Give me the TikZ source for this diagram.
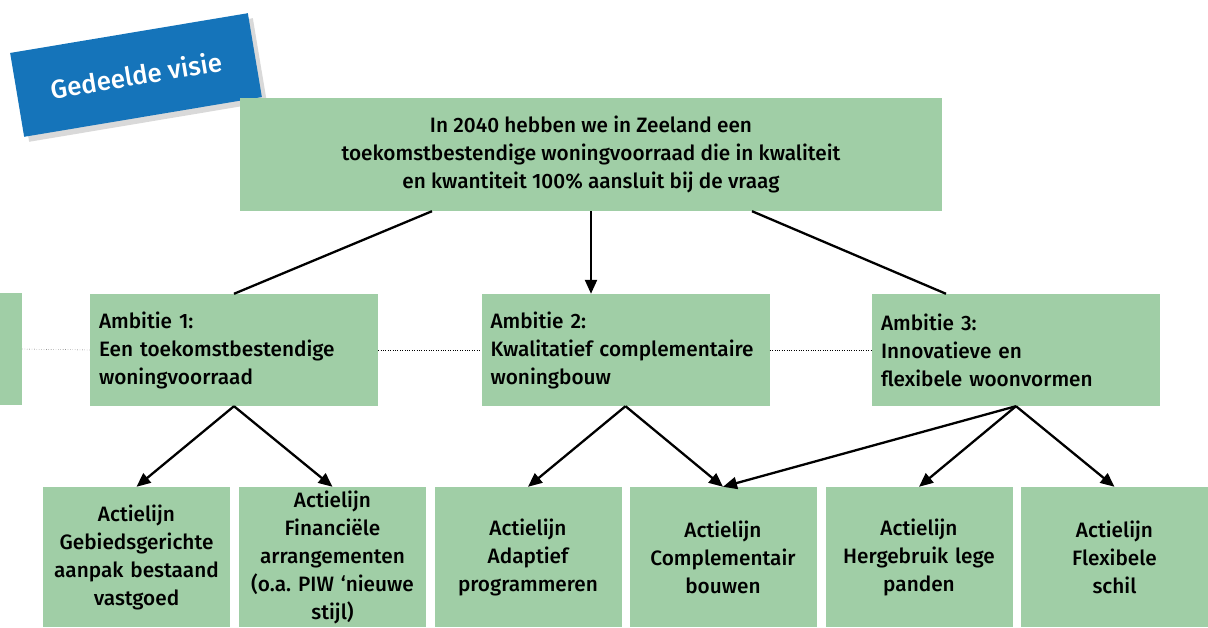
\documentclass[tikz,border=0pt]{standalone}
\usepackage{fontspec}
\setmainfont{Fira Sans}[BoldFont={* Medium}]
\usetikzlibrary{arrows.meta}
\definecolor{boxgreen}{RGB}{160,206,166}
\definecolor{labelblue}{RGB}{21,116,186}
\definecolor{shadowgray}{RGB}{217,217,217}
\frenchspacing
\tikzset{
  greenbox/.style={fill=boxgreen, inner sep=0pt, font=\fontsize{20.8}{28}\selectfont\bfseries},
  ambbox/.style={greenbox, minimum width=288pt, minimum height=112pt, align=left, text width=270pt},
  actbox/.style={greenbox, minimum width=187pt, minimum height=140pt, align=center, text width=187pt},
  conn/.style={line width=2.3pt},
  arr/.style={conn, -{Triangle[length=14pt,width=12pt]}}
}
\begin{document}
\begin{tikzpicture}[x=1pt,y=-1pt]
  \useasboundingbox (0,0) rectangle (1208,628);

  % label top left
  \node[fill=shadowgray, minimum width=241pt, minimum height=85pt, rotate=9.5] (shadow) at (141,80) {};
  \node[fill=labelblue, minimum width=241pt, minimum height=85pt, rotate=9.5, text=white,
        font=\fontsize{26}{26}\selectfont\bfseries] (label) at (136,75) {Gedeelde visie};

  % vision
  \node[greenbox, minimum width=702pt, minimum height=113pt, align=center] (visie) at (591,154.5)
    {In 2040 hebben we in Zeeland een\\toekomstbestendige woningvoorraad die in kwaliteit\\en kwantiteit 100\% aansluit bij de vraag};

  % ambitions
  \node[greenbox, minimum width=22pt, minimum height=112pt] (amb0) at (11,349) {};
  \node[ambbox] (amb1) at (234,350) {Ambitie 1:\\Een toekomstbestendige\\woningvoorraad};
  \node[ambbox] (amb2) at (625.5,350) {Ambitie 2:\\Kwalitatief complementaire\\woningbouw};
  \node[ambbox] (amb3) at (1016,350) {Ambitie 3:\\Innovatieve en\\flexibele woonvormen};

  \draw[dotted] (amb0.east) -- (amb1.west);
  \draw[dotted] (amb1.east) -- (amb2.west);
  \draw[dotted] (amb2.east) -- (amb3.west);

  % action lines
  \node[actbox] (act1) at (136.5,557) {Actielijn\\Gebiedsgerichte\\aanpak bestaand\\vastgoed};
  \node[actbox] (act2) at (332.5,557) {Actielijn\\Financiële\\arrangementen\\(o.a. PIW ‘nieuwe\\stijl)};
  \node[actbox] (act3) at (528,557) {Actielijn\\Adaptief\\programmeren};
  \node[actbox] (act4) at (723,557) {Actielijn\\Complementair\\bouwen};
  \node[actbox] (act5) at (919,557) {Actielijn\\Hergebruik lege\\panden};
  \node[actbox] (act6) at (1114.5,557) {Actielijn\\Flexibele\\schil};

  % connectors
  \draw[conn] ([xshift=-159pt]visie.south) -- (amb1.north);
  \draw[arr] (visie.south) -- (visie.south |- amb2.north);
  \draw[conn] ([xshift=161pt]visie.south) -- ([xshift=-70pt]amb3.north);

  \draw[arr] (amb1.south) -- (act1.north);
  \draw[arr] (amb1.south) -- (act2.north);
  \draw[arr] (amb2.south) -- (act3.north);
  \draw[arr] (amb2.south) -- (act4.north);
  \draw[arr] (amb3.south) -- (act4.north);
  \draw[arr] (amb3.south) -- (act5.north);
  \draw[arr] (amb3.south) -- (act6.north);
\end{tikzpicture}
\end{document}
